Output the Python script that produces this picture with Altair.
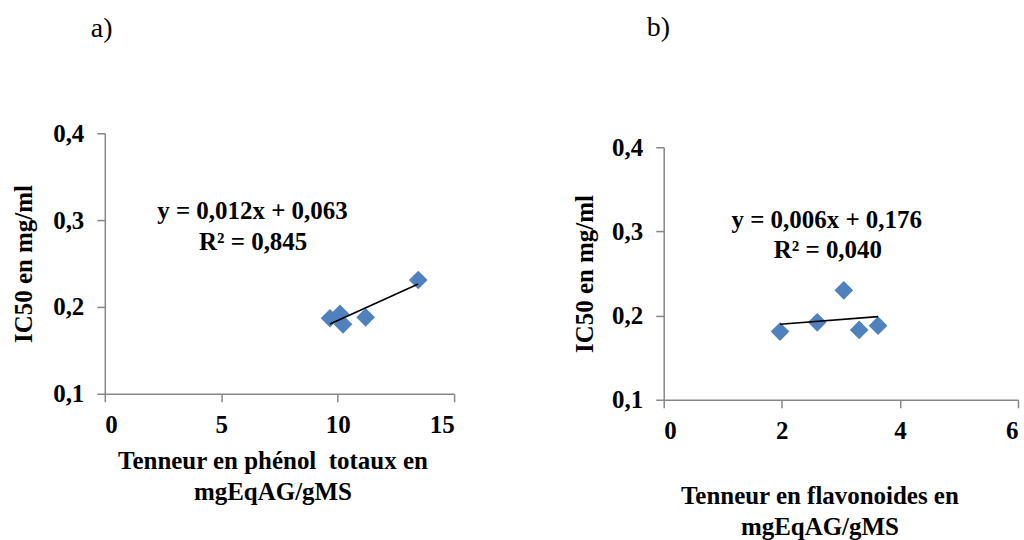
import altair as alt
import pandas as pd

FONT = "Liberation Serif"
BLUE = "#4F81BD"
GREY = "#868686"

# Panel a) : total phenols vs IC50
phenol_x = [9.67, 10.10, 10.23, 11.20, 13.46]
phenol_ic50 = [0.187, 0.192, 0.180, 0.188, 0.231]
# Panel b) : flavonoids vs IC50
flav_x = [1.97, 2.60, 3.05, 3.31, 3.63]
flav_ic50 = [0.181, 0.192, 0.230, 0.183, 0.188]

# trendline equation labels (anchored in data units)
eq_a = ["y = 0,012x + 0,063", "R² = 0,845"]
eq_a_x = [6.34, 6.37]
eq_a_y = [0.301, 0.266]
eq_b = ["y = 0,006x + 0,176", "R² = 0,040"]
eq_b_x = [2.76, 2.78]
eq_b_y = [0.304, 0.268]

y_ticks = [0.1, 0.2, 0.3, 0.4]
xa_ticks = [0, 5, 10, 15]
xb_ticks = [0, 2, 4, 6]

xa_title = ["Tenneur en phénol\u00a0 totaux en", "mgEqAG/gMS"]
xb_title = ["Tenneur en flavonoides en", "mgEqAG/gMS"]
y_title = "IC50 en mg/ml"

LABEL_EXPR = "replace(format(datum.value, '.1f'), '.', ',')"


def panel(xs, ys, eq, eqx, eqy, xdom, xticks, xtitle, ptitle, w, h,
          yrange, xt_x, xt_y, yt_x, yt_y, title_dx, title_offset):
    df = pd.DataFrame({"x": xs, "y": ys})
    tdf = pd.DataFrame({"t": eq, "x": eqx, "y": eqy})
    yscale_kwargs = dict(domain=[0.1, 0.4], nice=False, zero=False)
    if yrange is not None:
        yscale_kwargs["range"] = yrange
    xscale = alt.Scale(domain=xdom, nice=False, zero=False)
    yscale = alt.Scale(**yscale_kwargs)
    xaxis = alt.Axis(values=xticks, title=xtitle, format="d",
                     titleX=xt_x, titleY=xt_y, titleAlign="center",
                     titleBaseline="alphabetic", titleLineHeight=31,
                     labelPadding=11)
    yaxis = alt.Axis(values=y_ticks, title=y_title, labelExpr=LABEL_EXPR,
                     titleX=yt_x, titleY=yt_y, titleAngle=270,
                     titleAlign="center", titleBaseline="alphabetic",
                     labelPadding=13)
    X = alt.X("x:Q", scale=xscale, axis=xaxis)
    Y = alt.Y("y:Q", scale=yscale, axis=yaxis)
    pts = alt.Chart(df).mark_point(shape="diamond", filled=True, size=350,
                                   color=BLUE, opacity=1).encode(x=X, y=Y)
    line = (alt.Chart(df).transform_regression("x", "y")
            .mark_line(color="black", strokeWidth=1.6).encode(x=X, y=Y))
    txt = alt.Chart(tdf).mark_text(font=FONT, fontWeight="bold", fontSize=25,
                                   baseline="alphabetic", align="center",
                                   color="black").encode(x=X, y=Y, text="t:N")
    return alt.layer(pts, line, txt).properties(
        width=w, height=h,
        title=alt.TitleParams(ptitle, anchor="start", frame="group",
                              dx=title_dx, offset=title_offset,
                              font=FONT, fontSize=28, fontWeight="normal",
                              color="black", baseline="alphabetic"),
    )


left = panel(phenol_x, phenol_ic50, eq_a, eq_a_x, eq_a_y, [0, 15], xa_ticks,
             xa_title, "a)", 350, 261, None, 168, 75, -73, 130.5, -14, 56)
right = panel(flav_x, flav_ic50, eq_b, eq_b_x, eq_b_y, [0, 6], xb_ticks,
              xb_title, "b)", 355, 267, [267, 14], 156, 104, -71, 140.5, -17, 69)

chart = (
    alt.hconcat(left, right, spacing=210, bounds="flush")
    .properties(padding={"left": 12, "top": 14, "right": 5, "bottom": 5},
                background="white")
    .configure_view(stroke=None)
    .configure_axis(
        grid=False, domainColor=GREY, tickColor=GREY, domainWidth=1.5,
        tickWidth=1.5, tickSize=8, labelFont=FONT, labelFontSize=25,
        labelFontWeight="bold", labelColor="black", titleFont=FONT,
        titleFontSize=25, titleFontWeight="bold", titleColor="black",
    )
)

chart.save("out.html", embed_options={"renderer": "svg", "actions": False})
